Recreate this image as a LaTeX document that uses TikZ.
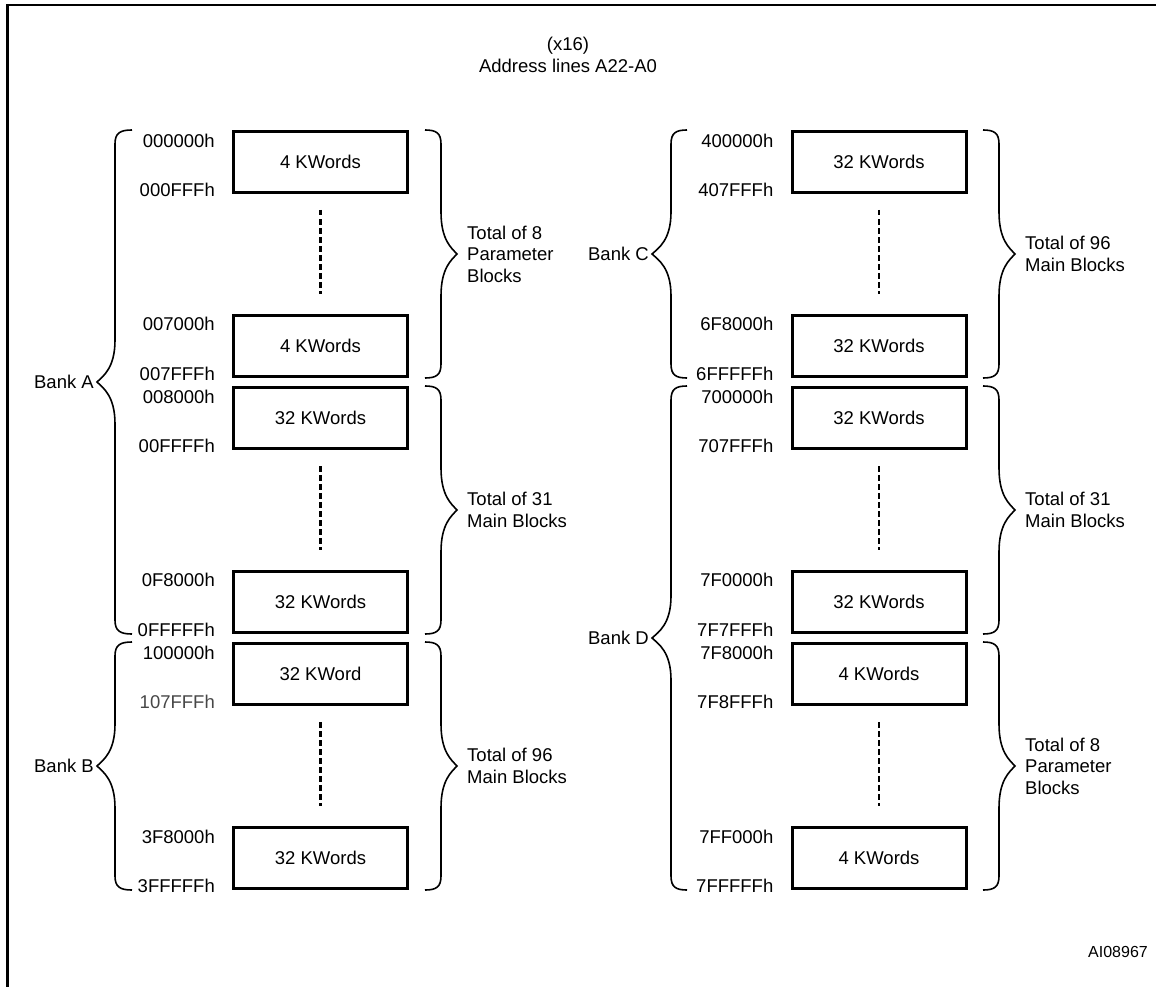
\documentclass[tikz,border=0pt]{standalone}
\usepackage{fontspec}
\setmainfont{Liberation Sans}
\newcommand\mainsz{\fontsize{18.5}{21.5}\selectfont}
\newcommand\MyBrace[6][]{% #2 xe, #3 xv, #4 xt, #5 y1, #6 y2
  \draw[brc,#1] (#2,#5) .. controls ({#3+(#2-#3)*0.3},#5) and (#3,{#5+3}) .. (#3,{#5+14})
   -- (#3,{(#5+#6)/2-42}) .. controls (#3,{(#5+#6)/2-14}) and ({#4+(#3-#4)*0.35},{(#5+#6)/2-6}) .. (#4,{(#5+#6)/2})
   .. controls ({#4+(#3-#4)*0.35},{(#5+#6)/2+6}) and (#3,{(#5+#6)/2+14}) .. (#3,{(#5+#6)/2+42})
   -- (#3,{#6-14}) .. controls (#3,{#6-3}) and ({#3+(#2-#3)*0.3},#6) .. (#2,#6);}
\tikzset{
  blk/.style={draw, line width=3pt, minimum width=174pt, minimum height=61pt, inner sep=0pt, font=\mainsz},
  addr/.style={anchor=east, inner sep=0pt, font=\mainsz, text height=13.3pt, text depth=0pt},
  dots/.style={line width=2.2pt, dash pattern=on 5.5pt off 3.5pt},
  brc/.style={line width=1.6pt},
  note/.style={anchor=west, align=left, inner sep=0pt, font=\mainsz},
  bank/.style={anchor=east, inner sep=0pt, font=\mainsz, text height=13.3pt, text depth=0pt},
}
\begin{document}
\begin{tikzpicture}[x=1pt,y=-1pt]
\useasboundingbox (0,0) rectangle (1156,987);
% frame
\draw[line width=2.5pt] (1170,5) -- (7.5,5) -- (7.5,1000);
% header
\node[font=\mainsz, align=center, inner sep=0pt] (hdr) at (568,55) {(x16)\\Address lines A22-A0};
\node[anchor=east, inner sep=0pt, font=\fontsize{16}{19}\selectfont] (ref) at (1148,952) {AI08967};

% ---- left column boxes
\node[blk] (a1) at (320.5,162)   {4 KWords};
\node[blk] (a2) at (320.5,345.5) {4 KWords};
\node[blk] (a3) at (320.5,418)   {32 KWords};
\node[blk] (a4) at (320.5,601.5) {32 KWords};
\node[blk] (b1) at (320.5,674)   {32 KWord};
\node[blk] (b2) at (320.5,858)   {32 KWords};
% ---- right column boxes
\node[blk] (c1) at (879,162)   {32 KWords};
\node[blk] (c2) at (879,345.5) {32 KWords};
\node[blk] (d1) at (879,418)   {32 KWords};
\node[blk] (d2) at (879,601.5) {32 KWords};
\node[blk] (d3) at (879,674)   {4 KWords};
\node[blk] (d4) at (879,858)   {4 KWords};

% ---- address labels
\foreach \b/\t/\e in {a1/000000h/000FFFh, a2/007000h/007FFFh, a3/008000h/00FFFFh, a4/0F8000h/0FFFFFh, b2/3F8000h/3FFFFFh,
                      c1/400000h/407FFFh, c2/6F8000h/6FFFFFh, d1/700000h/707FFFh, d2/7F0000h/7F7FFFh, d3/7F8000h/7F8FFFh, d4/7FF000h/7FFFFFh}{
  \node[addr] (\b-s) at ([xshift=-17pt,yshift=-10.5pt]\b.north west) {\t};
  \node[addr] (\b-e) at ([xshift=-17pt,yshift=4pt]\b.south west) {\e};
}
\node[addr] (b1-s) at ([xshift=-17pt,yshift=-10.5pt]b1.north west) {100000h};
\node[addr, text=black!72] (b1-e) at ([xshift=-17pt,yshift=4pt]b1.south west) {107FFFh};

% ---- dotted continuation lines
\foreach \u/\l in {a1/a2, a3/a4, b1/b2, c1/c2, d1/d2, d3/d4}{
  \draw[dots] ([yshift=-16pt]\u.south) -- ([yshift=20pt]\l.north);
}

% ---- left braces (banks)
\MyBrace{132}{115}{97}{130}{634}
\MyBrace{132}{115}{97}{642}{890}
\MyBrace{687}{671}{652}{130}{378}
\MyBrace{687}{671}{652}{386}{890}
\node[bank] (bA) at (94,382) {Bank A};
\node[bank] (bB) at (94,766) {Bank B};
\node[bank] (bC) at (649,254) {Bank C};
\node[bank] (bD) at (649,638) {Bank D};

% ---- right braces (block groups)
\MyBrace{425}{441}{457}{130}{378}
\MyBrace{425}{441}{457}{386}{634}
\MyBrace{425}{441}{457}{642}{890}
\MyBrace{983}{999}{1015}{130}{378}
\MyBrace{983}{999}{1015}{386}{634}
\MyBrace{983}{999}{1015}{642}{890}
\node[note] (nA1) at (467,254) {Total of 8\\Parameter\\Blocks};
\node[note] (nA2) at (467,510) {Total of 31\\Main Blocks};
\node[note] (nB)  at (467,766) {Total of 96\\Main Blocks};
\node[note] (nC)  at (1025,254) {Total of 96\\Main Blocks};
\node[note] (nD1) at (1025,510) {Total of 31\\Main Blocks};
\node[note] (nD2) at (1025,766) {Total of 8\\Parameter\\Blocks};
\end{tikzpicture}
\end{document}
